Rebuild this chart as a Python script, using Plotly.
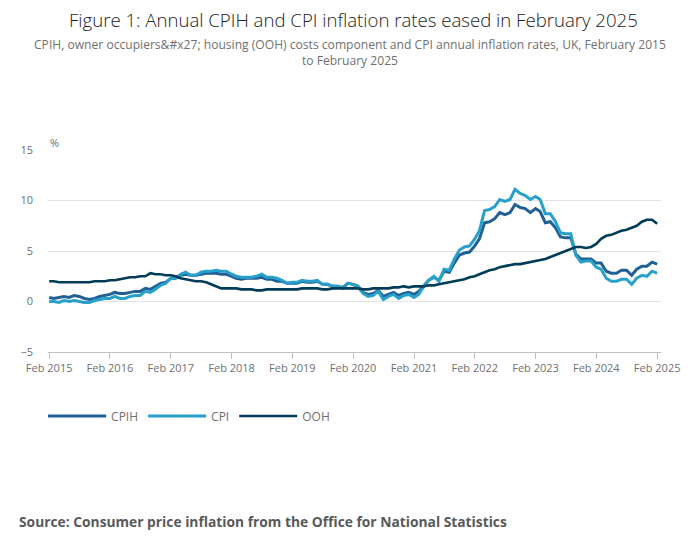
import plotly.graph_objects as go
import pandas as pd

# Monthly annual rates (%), Feb 2015 to Feb 2025
months = pd.date_range("2015-02-01", "2025-02-01", freq="MS")

cpih = [
    0.4, 0.3, 0.4, 0.5, 0.4, 0.6, 0.5, 0.3, 0.2, 0.3, 0.5,            # 2015 Feb-Dec
    0.6, 0.7, 0.9, 0.8, 0.8, 0.9, 1.0, 1.0, 1.3, 1.2, 1.5, 1.8,       # 2016
    1.9, 2.3, 2.3, 2.6, 2.7, 2.6, 2.6, 2.7, 2.8, 2.8, 2.8, 2.7,       # 2017
    2.7, 2.5, 2.3, 2.2, 2.3, 2.3, 2.3, 2.4, 2.2, 2.2, 2.0, 2.0,       # 2018
    1.8, 1.8, 1.8, 2.0, 1.9, 1.9, 2.0, 1.7, 1.7, 1.5, 1.5, 1.4,       # 2019
    1.8, 1.7, 1.5, 0.9, 0.7, 0.8, 1.1, 0.5, 0.7, 0.9, 0.6, 0.8,       # 2020
    0.9, 0.7, 1.0, 1.6, 2.1, 2.4, 2.1, 3.0, 2.9, 3.8, 4.6, 4.8,       # 2021
    4.9, 5.5, 6.2, 7.8, 7.9, 8.2, 8.8, 8.6, 8.8, 9.6, 9.3, 9.2,       # 2022
    8.8, 9.2, 8.9, 7.8, 7.9, 7.3, 6.4, 6.3, 6.3, 4.7, 4.2, 4.2,       # 2023
    4.2, 3.8, 3.8, 3.0, 2.8, 2.8, 3.1, 3.1, 2.6, 3.2, 3.5, 3.5,       # 2024
    3.9, 3.7,                                                         # 2025
]

cpi = [
    0.0, 0.0, -0.1, 0.1, 0.0, 0.1, 0.0, -0.1, -0.1, 0.1, 0.2,
    0.3, 0.3, 0.5, 0.3, 0.3, 0.5, 0.6, 0.6, 1.0, 0.9, 1.2, 1.6,
    1.8, 2.3, 2.3, 2.7, 2.9, 2.6, 2.6, 2.9, 3.0, 3.0, 3.1, 3.0,
    3.0, 2.7, 2.5, 2.4, 2.4, 2.4, 2.5, 2.7, 2.4, 2.4, 2.3, 2.1,
    1.8, 1.9, 1.9, 2.1, 2.0, 2.0, 2.1, 1.7, 1.7, 1.5, 1.5, 1.3,
    1.8, 1.7, 1.5, 0.8, 0.5, 0.6, 1.0, 0.2, 0.5, 0.7, 0.3, 0.6,
    0.7, 0.4, 0.7, 1.5, 2.1, 2.5, 2.0, 3.2, 3.1, 4.2, 5.1, 5.4,
    5.5, 6.2, 7.0, 9.0, 9.1, 9.4, 10.1, 9.9, 10.1, 11.1, 10.7, 10.5,
    10.1, 10.4, 10.1, 8.7, 8.7, 7.9, 6.8, 6.7, 6.7, 4.6, 3.9, 4.0,
    4.0, 3.4, 3.2, 2.3, 2.0, 2.0, 2.2, 2.2, 1.7, 2.3, 2.6, 2.5,
    3.0, 2.8,
]

ooh = [
    2.0, 2.0, 1.9, 1.9, 1.9, 1.9, 1.9, 1.9, 1.9, 2.0, 2.0,
    2.0, 2.1, 2.1, 2.2, 2.3, 2.4, 2.4, 2.5, 2.5, 2.8, 2.7, 2.7,
    2.6, 2.6, 2.5, 2.3, 2.2, 2.1, 2.0, 2.0, 1.9, 1.7, 1.5, 1.3,
    1.3, 1.3, 1.3, 1.2, 1.2, 1.2, 1.1, 1.1, 1.2, 1.2, 1.2, 1.2,
    1.2, 1.2, 1.2, 1.3, 1.3, 1.3, 1.3, 1.2, 1.2, 1.3, 1.3, 1.3,
    1.3, 1.3, 1.3, 1.2, 1.2, 1.3, 1.3, 1.3, 1.3, 1.4, 1.4, 1.5,
    1.4, 1.5, 1.5, 1.5, 1.6, 1.6, 1.7, 1.8, 1.9, 2.0, 2.1, 2.2,
    2.4, 2.5, 2.7, 2.9, 3.1, 3.2, 3.4, 3.5, 3.6, 3.7, 3.7, 3.8,
    3.9, 4.0, 4.1, 4.2, 4.4, 4.6, 4.8, 5.0, 5.2, 5.4, 5.4, 5.3,
    5.4, 5.7, 6.2, 6.5, 6.6, 6.8, 7.0, 7.1, 7.3, 7.5, 7.9, 8.1,
    8.1, 7.7,
]

series = [
    ("CPIH", cpih, "#206095", 3),
    ("CPI", cpi, "#27a0cc", 3),
    ("OOH", ooh, "#003c57", 2.6),
]

FONT = "Open Sans"

fig = go.Figure()
for name, vals, color, width in series:
    fig.add_trace(go.Scatter(
        x=months, y=vals, name=name, mode="lines",
        line=dict(color=color, width=width),
        hovertemplate="%{x|%b %Y}: %{y}%<extra>" + name + "</extra>",
    ))

# page body has an 8px margin, so the figure is a little smaller than the window
fig.update_layout(
    width=684, height=533,
    margin=dict(l=29, r=27, t=142, b=189),
    paper_bgcolor="white", plot_bgcolor="white",
    font=dict(family=FONT, color="#707070", size=12),
    showlegend=True,
    legend=dict(
        orientation="h", x=-0.008, y=-0.245, xanchor="left", yanchor="top",
        font=dict(size=12, color="#707070"), itemwidth=58,
    ),
    xaxis=dict(
        type="date",
        range=["2015-01-25", "2025-02-24"],
        tick0="2015-02-01", dtick="M12", tickformat="%b %Y",
        showgrid=False, showline=True, linecolor="#bebebe", linewidth=1,
        ticks="outside", ticklen=6, tickcolor="#bebebe",
        tickfont=dict(size=11, color="#707070"),
        zeroline=False,
    ),
    yaxis=dict(
        range=[-5, 15], tickvals=[-5, 0, 5, 10, 15],
        showgrid=True, gridcolor="#e3e3e3", gridwidth=1,
        zeroline=False, showline=False,
        tickfont=dict(size=11, color="#707070"),
        ticklabelstandoff=14,
    ),
    annotations=[
        dict(text="Figure 1: Annual CPIH and CPI inflation rates eased in February 2025",
             xref="paper", yref="paper", x=0.498, y=(352 - 19) / 202,
             xanchor="center", yanchor="middle", showarrow=False,
             font=dict(size=18.6, color="#222222", family=FONT, weight=300)),
        dict(text="CPIH, owner occupiers&amp;#x27; housing (OOH) costs component and CPI annual inflation rates, UK, February 2015"
                  "<br>to February 2025",
             xref="paper", yref="paper", x=0.492, y=(352 - 52) / 202,
             xanchor="center", yanchor="middle", showarrow=False,
             font=dict(size=12.1, color="#707070", family=FONT)),
        dict(text="%", xref="paper", yref="paper", x=0.0, y=(352 - 142) / 202,
             xanchor="left", yanchor="middle", showarrow=False,
             font=dict(size=11, color="#707070")),
        dict(text="<b>Source: Consumer price inflation from the Office for National Statistics</b>",
             xref="paper", yref="paper", x=-0.05, y=(352 - 521) / 202,
             xanchor="left", yanchor="middle", showarrow=False,
             font=dict(size=13.8, color="#595959", family=FONT)),
    ],
)

fig.write_html("out.html")
